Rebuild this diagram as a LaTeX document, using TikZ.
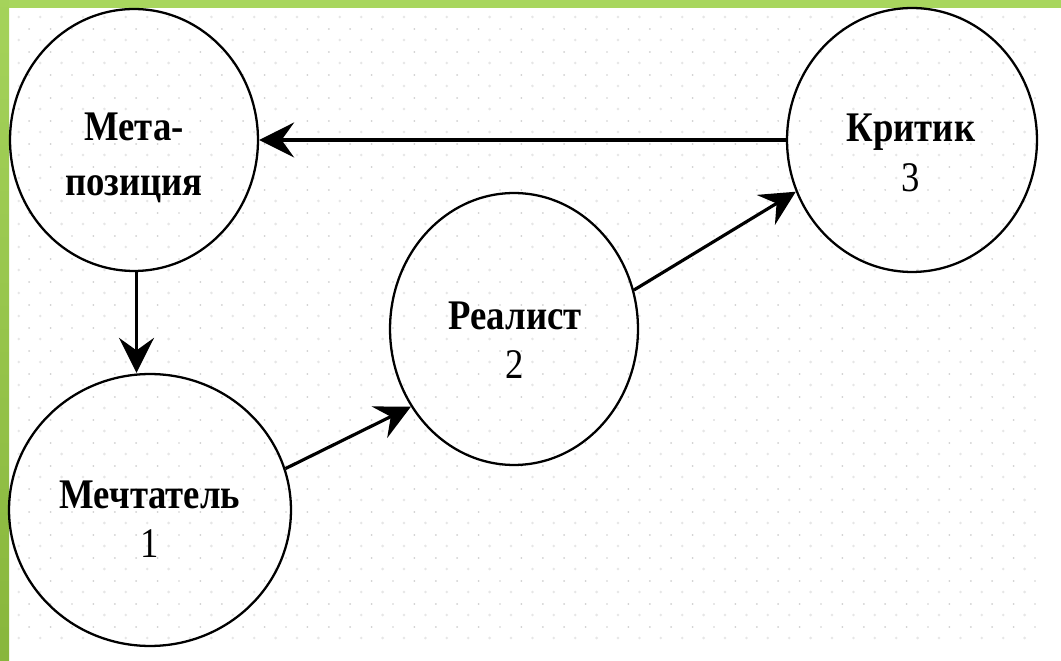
\documentclass[tikz,border=0pt]{standalone}
\usepackage{fontspec}
\setmainfont[FakeStretch=0.87]{Liberation Serif}
\usetikzlibrary{shapes.geometric, arrows.meta}

\definecolor{greenTop}{RGB}{168,214,94}
\definecolor{greenLow}{RGB}{136,182,60}
\definecolor{dotDark}{RGB}{208,208,208}
\definecolor{dotLight}{RGB}{230,230,230}

\tikzset{
  stage/.style={draw, ellipse, line width=1.3pt, inner sep=0pt},
  caption/.style={align=center, inner sep=0pt, font=\fontsize{24}{28}\selectfont},
  flow/.style={line width=1.8pt, -{Stealth[length=0.7cm, width=0.7cm, inset=0.25cm]}}
}

\begin{document}
\begin{tikzpicture}[x=0.02cm, y=-0.02cm]

\useasboundingbox (0,0) rectangle (1061,661);

% draw dotted paper
\fill[white] (0,0) rectangle (1061,661);
\foreach \i in {0,...,47} {
  \foreach \j in {0,...,27} {
    \fill[dotLight] (18.8+21.4*\i, 17+23*\j) circle (0.8pt);
  }
}
\foreach \i in {1,...,48} {
  \foreach \j in {1,...,27} {
    \fill[dotDark] (7.8+21.4*\i, 6+23*\j) circle (0.55pt);
  }
}

% draw green frame
\fill[greenTop] (0,0) rectangle (1061,8);
\shade[top color=greenTop!90!greenLow, bottom color=greenLow] (0,0) rectangle (9,661);

% draw stages
\node[stage, minimum width=4.96cm, minimum height=5.24cm] (meta) at (134,140) {};
\node[stage, minimum width=5.64cm, minimum height=5.44cm] (dream) at (150,510) {};
\node[stage, minimum width=4.96cm, minimum height=5.44cm] (real) at (514,329) {};
\node[stage, minimum width=5.00cm, minimum height=5.28cm] (crit) at (912,140) {};

% draw labels
\node[caption, font=\fontsize{24}{31}\selectfont] (metaText) at (134,158) {\textbf{Мета-}\\\textbf{позиция}};
\node[caption] (dreamText) at (150,519) {\textbf{Мечтатель}\\1};
\node[caption] (realText) at (515,340) {\textbf{Реалист}\\2};
\node[caption] (critText) at (911,153) {\textbf{Критик}\\3};

% draw transitions
\draw[flow] (crit) -- (meta);
\draw[flow] ([xshift=0.05cm]meta.south) -- ([xshift=0.05cm]meta.south |- dream.north);
\draw[flow] (dream.17) -- (real.217);
\draw[flow] (real.18) -- (crit.204);

\end{tikzpicture}
\end{document}
